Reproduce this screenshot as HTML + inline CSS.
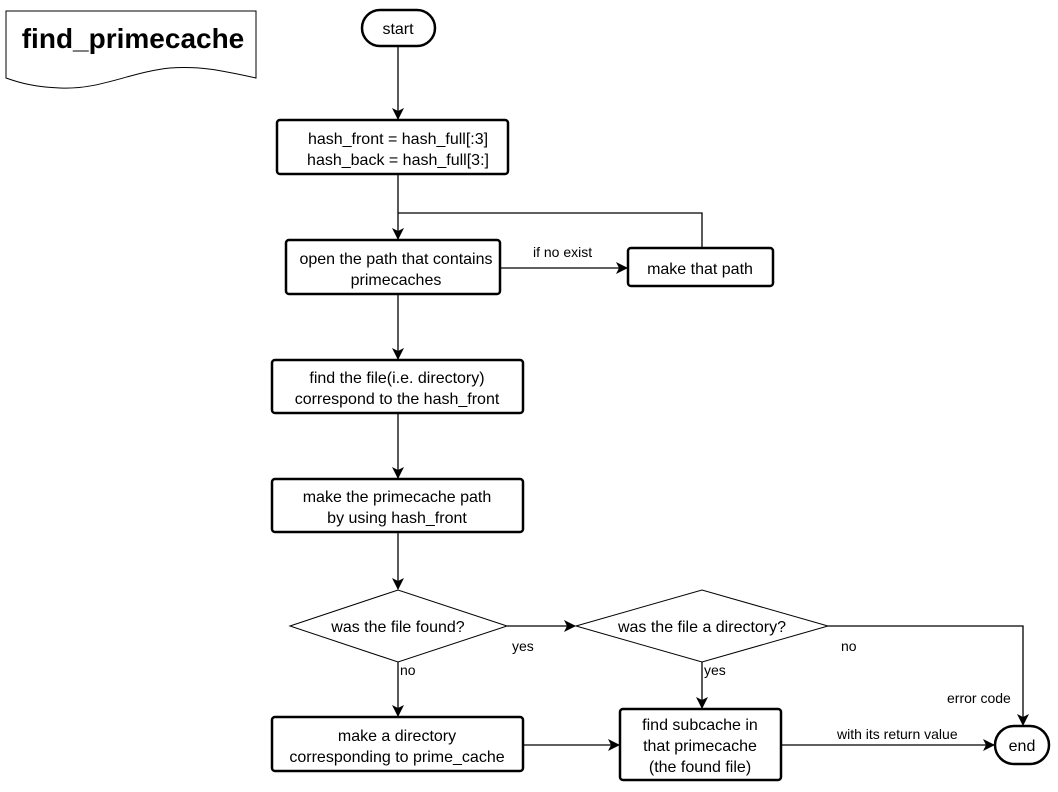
<!DOCTYPE html>
<html><head><meta charset="utf-8"><style>
body{margin:0;background:#fff}
svg{display:block;font-family:"Liberation Sans",Arial,sans-serif}
</style></head><body>
<svg width="1058" height="792" viewBox="0 0 1058 792">
<defs><marker id="a" markerWidth="12" markerHeight="12" refX="11" refY="6" orient="auto" markerUnits="userSpaceOnUse"><path d="M0,0 L12,6 L0,12 L3,6 Z" fill="#000"/></marker></defs>
<g fill="none" stroke="#000" stroke-width="1.3">
<path d="M6,11 H256 V78 C220,70 200,66 170,68 C130,72 100,90 60,88 C35,87 20,83 6,78 Z" stroke-width="1"/>
<line x1="398" y1="46" x2="398" y2="119" marker-end="url(#a)"/>
<line x1="398" y1="174" x2="398" y2="239" marker-end="url(#a)"/>
<polyline points="702,248 702,213 398,213"/>
<line x1="500" y1="268" x2="627" y2="268" marker-end="url(#a)"/>
<line x1="398" y1="294" x2="398" y2="359" marker-end="url(#a)"/>
<line x1="398" y1="413" x2="398" y2="478" marker-end="url(#a)"/>
<line x1="398" y1="532" x2="398" y2="589" marker-end="url(#a)"/>
<line x1="507" y1="626" x2="575" y2="626" marker-end="url(#a)"/>
<line x1="398" y1="662" x2="398" y2="716" marker-end="url(#a)"/>
<line x1="702" y1="662" x2="702" y2="708" marker-end="url(#a)"/>
<polyline points="828,626 1023,626 1023,725" marker-end="url(#a)"/>
<line x1="523" y1="745" x2="619" y2="745" marker-end="url(#a)"/>
<line x1="781" y1="745" x2="994" y2="745" marker-end="url(#a)"/>
<polygon points="290,626 398,590 507,626 398,662" stroke-width="1"/>
<polygon points="576,626 702,590 828,626 702,662" stroke-width="1"/>
</g>
<g fill="#fff" stroke="#000" stroke-width="2.5">
<rect x="362" y="10" width="73" height="36" rx="18"/>
<rect x="277" y="120" width="231" height="54" rx="3"/>
<rect x="286" y="240" width="214" height="54" rx="3"/>
<rect x="628" y="248" width="145" height="38" rx="3"/>
<rect x="272" y="360" width="251" height="53" rx="3"/>
<rect x="272" y="479" width="251" height="53" rx="3"/>
<rect x="272" y="717" width="251" height="54" rx="3"/>
<rect x="620" y="709" width="161" height="71" rx="3"/>
<rect x="995" y="726" width="54" height="38" rx="19"/>
</g>
<g font-size="16" text-anchor="middle" fill="#000">
<text x="133" y="48" font-size="28" font-weight="bold">find_primecache</text>
<text x="398" y="34">start</text>
<text x="398" y="144">hash_front = hash_full[:3]</text>
<text x="398" y="165">hash_back = hash_full[3:]</text>
<text x="396" y="264">open the path that contains</text>
<text x="396" y="285">primecaches</text>
<text x="700" y="274">make that path</text>
<text x="397" y="383">find the file(i.e. directory)</text>
<text x="397" y="404">correspond to the hash_front</text>
<text x="397" y="502">make the primecache path</text>
<text x="397" y="523">by using hash_front</text>
<text x="398" y="632">was the file found?</text>
<text x="702" y="632">was the file a directory?</text>
<text x="397" y="741">make a directory</text>
<text x="397" y="762">corresponding to prime_cache</text>
<text x="700" y="730">find subcache in</text>
<text x="700" y="751">that primecache</text>
<text x="700" y="772">(the found file)</text>
<text x="1022" y="751">end</text>
</g>
<g font-size="14" fill="#000">
<text x="533" y="257">if no exist</text>
<text x="512" y="651">yes</text>
<text x="400" y="675">no</text>
<text x="704" y="675">yes</text>
<text x="841" y="651">no</text>
<text x="947" y="703">error code</text>
<text x="837" y="739">with its return value</text>
</g>
</svg>
</body></html>
